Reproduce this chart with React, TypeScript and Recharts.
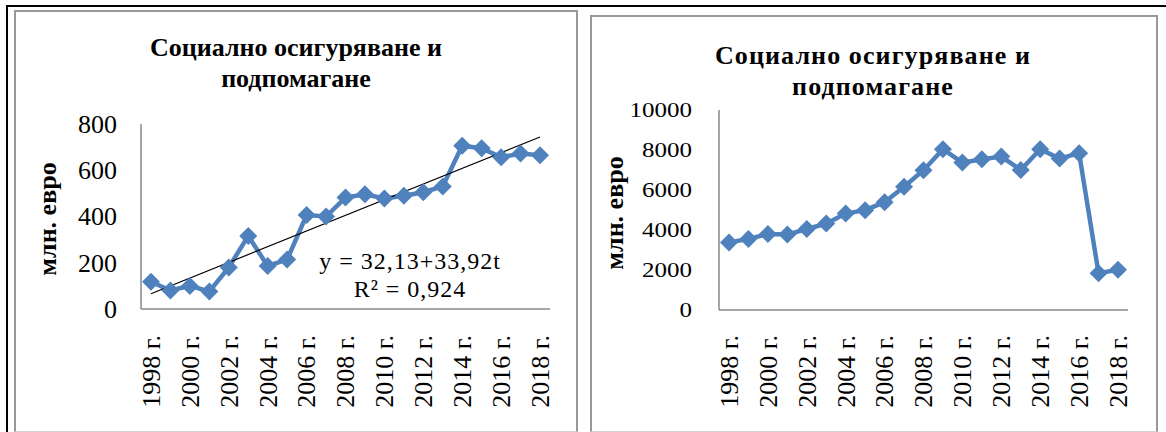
import { LineChart, Line, XAxis, YAxis, ReferenceLine } from "recharts";

// ── data ─────────────────────────────────────────────────────────────────────
const years = [
  "1998 г.", "1999 г.", "2000 г.", "2001 г.", "2002 г.", "2003 г.", "2004 г.",
  "2005 г.", "2006 г.", "2007 г.", "2008 г.", "2009 г.", "2010 г.", "2011 г.",
  "2012 г.", "2013 г.", "2014 г.", "2015 г.", "2016 г.", "2017 г.", "2018 г.",
];
const socialLeft = [118, 80, 100, 76, 180, 316, 186, 214, 406, 400, 482, 496, 478, 490, 505, 530, 706, 695, 656, 672, 665];
const socialRight = [3380, 3550, 3800, 3770, 4050, 4320, 4820, 4990, 5390, 6160, 6990, 8040, 7370, 7540, 7670, 7000, 8040, 7570, 7840, 1840, 2010];
const leftTicks = [0, 200, 400, 600, 800];
const rightTicks = [0, 2000, 4000, 6000, 8000, 10000];
const trendEnds = [66, 744]; // y = 32,13 + 33,92t at t=1 and t=21

const title = ["Социално осигуряване и", "подпомагане"];
const yLabel = "млн. евро";
const equation = ["y = 32,13+33,92t", "R² = 0,924"];

const FONT = '"Liberation Serif", "Times New Roman", serif';
const BLUE = "#4F81BD";
const AXIS = "#898989";

const leftData = years.map((year, i) => ({ year, value: socialLeft[i] }));
const rightData = years.map((year, i) => ({ year, value: socialRight[i] }));

function Diamond(props: any) {
  const { cx, cy, index } = props;
  if (cx == null || cy == null) return <g key={index} />;
  const r = 9;
  return (
    <path key={index} d={`M${cx},${cy - r}L${cx + r},${cy}L${cx},${cy + r}L${cx - r},${cy}Z`} fill={BLUE} />
  );
}

function XTick({ x, y, payload }: any) {
  return (
    <text x={x} y={y} transform={`rotate(-90 ${x} ${y})`} textAnchor="end" dy="0.34em"
      fontSize={26} fontFamily={FONT} fill="#000">
      {payload.value}
    </text>
  );
}

function YTickLeft({ x, y, payload }: any) {
  return (
    <text x={x} y={y} textAnchor="end" dy="0.34em" fontSize={26} fontFamily={FONT} fill="#000">
      {payload.value}
    </text>
  );
}

function YTickRight({ x, y, payload }: any) {
  return (
    <text transform={`translate(${x},${y}) scale(1,0.82)`} textAnchor="end" dy="0.34em"
      fontSize={25} fontFamily={FONT} fill="#000">
      {payload.value}
    </text>
  );
}

function Title({ cx, top, spacing }: { cx: number; top: number; spacing: number }) {
  return (
    <div style={{
      position: "absolute", left: cx - 220, top, width: 440, textAlign: "center",
      fontFamily: FONT, fontWeight: "bold", fontSize: 26, lineHeight: "31px", color: "#000",
      letterSpacing: spacing,
    }}>
      {title[0]}<br />{title[1]}
    </div>
  );
}

function YLabel({ cx, cy }: { cx: number; cy: number }) {
  return (
    <div style={{
      position: "absolute", left: cx, top: cy, transform: "translate(-50%,-50%) rotate(-90deg)",
      whiteSpace: "nowrap", fontFamily: FONT, fontWeight: "bold", fontSize: 26, lineHeight: "26px", color: "#000",
    }}>
      {yLabel}
    </div>
  );
}

const box = (left: number, top: number, width: number, height: number): React.CSSProperties => ({
  position: "absolute", left, top, width, height, boxSizing: "border-box",
  borderTop: "2px solid #999", borderLeft: "2px solid #999", borderRight: "2px solid #999",
  borderBottom: "1px solid #d4d4d4",
});

const eqStyle = (top: number): React.CSSProperties => ({
  position: "absolute", left: 310, top, width: 200, textAlign: "center",
  fontFamily: FONT, fontSize: 24, lineHeight: "24px", letterSpacing: 1, color: "#000", whiteSpace: "nowrap",
});

export default function App() {
  return (
    <div style={{ position: "absolute", left: 0, top: 0, width: 1166, height: 432, background: "#fff", overflow: "hidden" }}>
      {/* outer black frame */}
      <div style={{ position: "absolute", left: 6, top: 5, width: 1160, height: 2, background: "#000" }} />
      <div style={{ position: "absolute", left: 6, top: 5, width: 2, height: 427, background: "#000" }} />

      {/* left panel */}
      <div style={box(14, 10, 564, 422)} />
      <Title cx={296} top={32} spacing={0} />
      <YLabel cx={48} cy={219} />
      <div style={{ position: "absolute", left: 14, top: 10 }}>
        <LineChart width={564} height={421} data={leftData} margin={{ top: 114, right: 28, left: 0, bottom: 0 }}>
          <XAxis dataKey="year" interval={1} height={122} tickLine={false} tickSize={0} tickMargin={26}
            padding={{ left: 10, right: 10 }}
            axisLine={{ stroke: AXIS, strokeWidth: 1.5 }} tick={<XTick />} />
          <YAxis domain={[0, 800]} ticks={leftTicks} width={127} tickLine={false} tickSize={0} tickMargin={24}
            axisLine={{ stroke: AXIS, strokeWidth: 1.5 }} tick={<YTickLeft />} />
          <Line dataKey="value" stroke={BLUE} strokeWidth={4.5} dot={Diamond} activeDot={false}
            isAnimationActive={false} />
          <ReferenceLine segment={[{ x: years[0], y: trendEnds[0] }, { x: years[years.length - 1], y: trendEnds[1] }]}
            stroke="#000" strokeWidth={1.2} />
        </LineChart>
      </div>
      <div style={eqStyle(249)}>{equation[0]}</div>
      <div style={eqStyle(277)}>{equation[1]}</div>

      {/* right panel */}
      <div style={box(590, 15, 568, 417)} />
      <Title cx={873} top={40} spacing={1.1} />
      <YLabel cx={615} cy={213} />
      <div style={{ position: "absolute", left: 590, top: 15 }}>
        <LineChart width={568} height={416} data={rightData} margin={{ top: 95, right: 30, left: 0, bottom: 0 }}>
          <XAxis dataKey="year" interval={1} height={121} tickLine={false} tickSize={0} tickMargin={25}
            padding={{ left: 10, right: 10 }}
            axisLine={{ stroke: AXIS, strokeWidth: 1.5 }} tick={<XTick />} />
          <YAxis domain={[0, 10000]} ticks={rightTicks} width={129} tickLine={false} tickSize={0} tickMargin={27}
            axisLine={{ stroke: AXIS, strokeWidth: 1.5 }} tick={<YTickRight />} />
          <Line dataKey="value" stroke={BLUE} strokeWidth={4.5} dot={Diamond} activeDot={false}
            isAnimationActive={false} />
        </LineChart>
      </div>
    </div>
  );
}
